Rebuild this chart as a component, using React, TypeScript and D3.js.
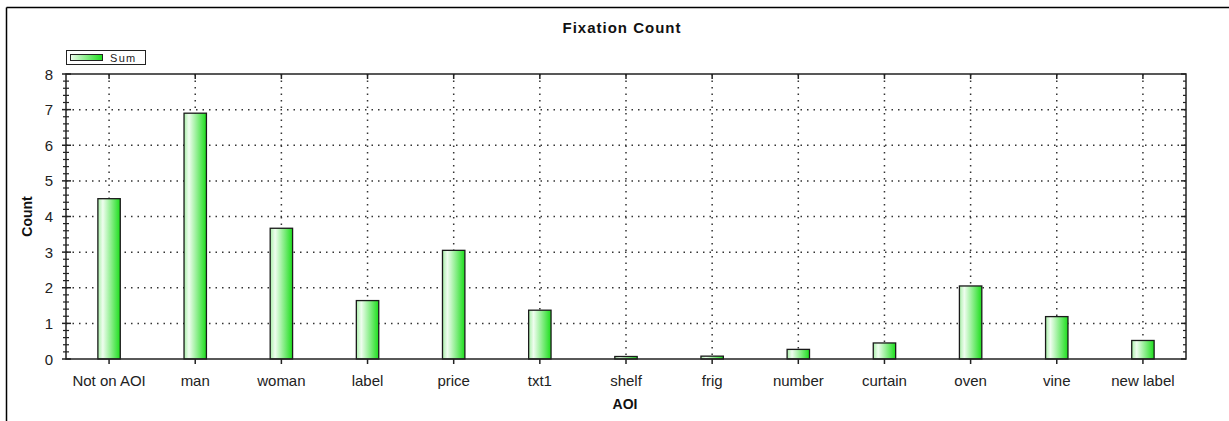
import React from "react";
import * as d3 from "d3";

const categories = ["Not on AOI", "man", "woman", "label", "price", "txt1", "shelf", "frig", "number", "curtain", "oven", "vine", "new label"];
const sumValues = [4.5, 6.9, 3.67, 1.64, 3.05, 1.37, 0.07, 0.08, 0.27, 0.45, 2.05, 1.19, 0.52];
const yTicks = [0, 1, 2, 3, 4, 5, 6, 7, 8];
const seriesName = "Sum";
const title = "Fixation Count";
const xTitle = "AOI";
const yTitle = "Count";

const W = 1229;
const H = 421;
const left = 66, right = 1186, top = 74, bottom = 359;
const font = "'Liberation Sans', Arial, sans-serif";

export default function App() {
  const x = d3.scaleBand<string>().domain(categories).range([left, right]).paddingInner(0).paddingOuter(0);
  const y = d3.scaleLinear().domain([0, 8]).range([bottom, top]);
  const barW = x.bandwidth() * 0.26;
  const minor = d3.range(0, 8.0001, 0.2).filter((v) => Math.abs(v - Math.round(v)) > 1e-6);

  return (
    <svg width={W} height={H} style={{ position: "absolute", left: 0, top: 0, background: "#fff" }} fontFamily={font}>
      <defs>
        <linearGradient id="barGrad" x1="0" x2="1" y1="0" y2="0">
          <stop offset="0%" stopColor="#a8f0a8" />
          <stop offset="22%" stopColor="#effdef" />
          <stop offset="100%" stopColor="#1cde1c" />
        </linearGradient>
        <linearGradient id="legGrad" x1="0" x2="1" y1="0" y2="0">
          <stop offset="0%" stopColor="#effdef" />
          <stop offset="100%" stopColor="#1cde1c" />
        </linearGradient>
      </defs>
      <rect x={0} y={0} width={W} height={H} fill="#fff" />
      {/* outer frame */}
      <line x1={6.5} y1={7.5} x2={W} y2={7.5} stroke="#000" strokeWidth={1.5} />
      <line x1={6.5} y1={7.5} x2={6.5} y2={H} stroke="#000" strokeWidth={1.5} />

      <text x={622} y={33} textAnchor="middle" fontSize={15} fontWeight="bold" letterSpacing={1} fill="#111">{title}</text>

      {/* legend */}
      <rect x={66.5} y={50.5} width={79} height={14} fill="#fff" stroke="#222" strokeWidth={1} />
      <rect x={70.5} y={54.5} width={32} height={6} fill="url(#legGrad)" stroke="#222" strokeWidth={1} />
      <text x={110} y={62} fontSize={11} fill="#222" letterSpacing={1.3}>{seriesName}</text>

      {/* grid */}
      {yTicks.filter((t) => t > 0 && t < 8).map((t) => (
        <line key={"gy" + t} x1={left} x2={right} y1={y(t)} y2={y(t)} stroke="#333" strokeWidth={1.5} strokeDasharray="1.5,5" />
      ))}
      {categories.map((c) => (
        <line key={"gx" + c} x1={x(c)! + x.bandwidth() / 2} x2={x(c)! + x.bandwidth() / 2} y1={top} y2={bottom} stroke="#333" strokeWidth={1.5} strokeDasharray="1.5,5" />
      ))}

      {/* bars */}
      {categories.map((c, i) => {
        const cx = x(c)! + x.bandwidth() / 2;
        return (
          <rect key={"b" + c} x={cx - barW / 2} y={y(sumValues[i])} width={barW} height={bottom - y(sumValues[i])} fill="url(#barGrad)" stroke="#1a1a1a" strokeWidth={1.3} />
        );
      })}

      {/* frame of plot */}
      <rect x={left} y={top} width={right - left} height={bottom - top} fill="none" stroke="#222" strokeWidth={1.5} />

      {/* y ticks */}
      {yTicks.map((t) => (
        <g key={"yt" + t}>
          <line x1={left - 4} x2={left + 5} y1={y(t)} y2={y(t)} stroke="#222" strokeWidth={1.5} />
          <line x1={right - 5} x2={right} y1={y(t)} y2={y(t)} stroke="#222" strokeWidth={1.5} />
          <text x={53} y={y(t) + 5.5} textAnchor="end" fontSize={15} fill="#222">{t}</text>
        </g>
      ))}
      {minor.map((t) => (
        <g key={"ym" + t}>
          <line x1={left - 3} x2={left + 3} y1={y(t)} y2={y(t)} stroke="#222" strokeWidth={1.2} />
          <line x1={right - 3} x2={right} y1={y(t)} y2={y(t)} stroke="#222" strokeWidth={1.2} />
        </g>
      ))}

      {/* x ticks */}
      {categories.map((c) => {
        const cx = x(c)! + x.bandwidth() / 2;
        return (
          <g key={"xt" + c}>
            <line x1={cx} x2={cx} y1={bottom} y2={bottom + 5} stroke="#222" strokeWidth={1.5} />
            <line x1={cx} x2={cx} y1={top} y2={top + 5} stroke="#222" strokeWidth={1.5} />
            <text x={cx} y={386} textAnchor="middle" fontSize={15} fill="#222">{c}</text>
          </g>
        );
      })}

      <text x={625} y={409} textAnchor="middle" fontSize={14} fontWeight="bold" fill="#111">{xTitle}</text>
      <text transform={`translate(32,${(top + bottom) / 2}) rotate(-90)`} textAnchor="middle" fontSize={14} fontWeight="bold" fill="#111">{yTitle}</text>
    </svg>
  );
}
